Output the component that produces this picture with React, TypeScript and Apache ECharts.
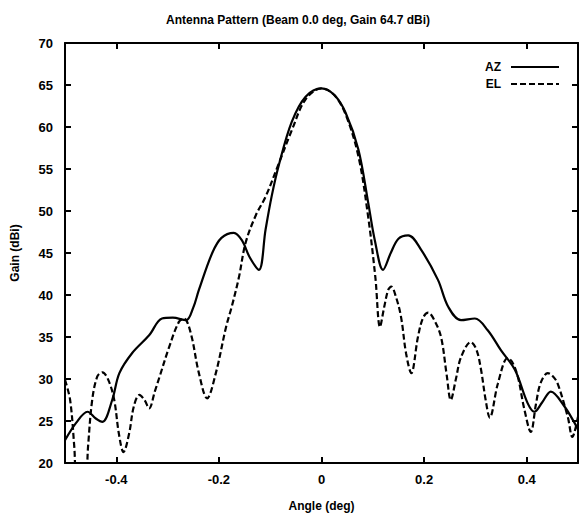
import React, { useEffect, useRef } from "react";
import * as echarts from "echarts";

const TITLE = "Antenna Pattern (Beam 0.0 deg, Gain 64.7 dBi)";
const X_TICKS = [-0.4, -0.2, 0, 0.2, 0.4];

const AZ_ANGLE = [
  -0.5, -0.478, -0.456, -0.44, -0.427, -0.408, -0.394, -0.369, -0.336, -0.311, -0.29, -0.264,
  -0.25, -0.239, -0.213, -0.195, -0.171, -0.155, -0.14, -0.122, -0.109, -0.097, -0.083, -0.058,
  -0.031, 0, 0.025, 0.047, 0.072, 0.091, 0.104, 0.12, 0.135, 0.15, 0.169, 0.194, 0.227, 0.247,
  0.272, 0.299, 0.324, 0.35, 0.377, 0.402, 0.415, 0.43, 0.447, 0.474, 0.493, 0.5,
];
const AZ_GAIN = [
  22.7, 24.8, 26.1, 25.3, 24.9, 27.5, 30.7, 33.1, 35.2, 37.2, 37.3, 37.0,
  38.5, 40.6, 45.0, 46.8, 47.4, 46.5, 44.5, 43.0, 47.8, 51.8, 55.5, 60.6,
  63.6, 64.6, 63.8, 61.7, 57.3, 51.0, 46.5, 43.0, 45.0, 46.7, 47.1, 45.4, 41.8, 38.6,
  37.0, 37.2, 35.8, 33.4, 31.1, 27.1, 26.1, 27.2, 28.5, 26.7, 24.8, 24.0,
];

const EL_ANGLE = [
  -0.5, -0.49, -0.482, -0.475, -0.462, -0.455, -0.447, -0.437, -0.427, -0.415, -0.404, -0.395,
  -0.386, -0.375, -0.366, -0.355, -0.345, -0.336, -0.325, -0.316, -0.297, -0.278, -0.268, -0.255,
  -0.239, -0.223, -0.206, -0.186, -0.175, -0.161, -0.148, -0.128, -0.109, -0.083, -0.058, -0.031,
  0, 0.025, 0.047, 0.072, 0.091, 0.105, 0.114, 0.122, 0.13, 0.136, 0.145, 0.155, 0.165, 0.175,
  0.188, 0.198, 0.208, 0.22, 0.233, 0.244, 0.252, 0.262, 0.272, 0.291, 0.302, 0.311, 0.32, 0.328,
  0.344, 0.363, 0.372, 0.383, 0.395, 0.408, 0.418, 0.427, 0.441, 0.45, 0.46, 0.48, 0.489, 0.5,
];
const EL_GAIN = [
  29.9, 27.5, 22.0, 16.0, 16.0, 22.0, 27.5, 30.3, 30.8, 29.8, 27.5, 23.5,
  21.3, 23.5, 26.7, 28.1, 27.5, 26.5, 28.5, 30.2, 33.8, 36.8, 37.2, 35.5,
  30.7, 27.7, 30.7, 36.2, 38.6, 42.1, 46.2, 49.5, 51.7, 55.7, 59.6, 63.3,
  64.6, 63.8, 61.5, 56.5, 49.3, 42.1, 36.2, 38.5, 40.6, 41.0, 39.8, 37.4, 33.0, 30.7,
  35.0, 37.3, 37.9, 37.0, 35.0, 30.5, 27.5, 30.0, 32.6, 34.4, 33.5, 31.1, 27.5, 25.4,
  29.5, 32.5, 32.0, 30.2, 26.5, 23.7, 27.0, 29.5, 30.7, 30.4, 29.5, 25.5, 23.1, 25.5,
];

const FONT = "'Liberation Sans', Arial, sans-serif";

export default function App() {
  const ref = useRef<HTMLDivElement>(null);
  useEffect(() => {
    if (!ref.current) return;
    const chart = echarts.init(ref.current, undefined, { renderer: "svg" });
    const azData = AZ_ANGLE.map((a, i) => [a, AZ_GAIN[i]]);
    const elData = EL_ANGLE.map((a, i) => [a, EL_GAIN[i]]);
    const axisLine = { show: true, onZero: false, lineStyle: { color: "#000", width: 2 } };
    const labelStyle = { color: "#000", fontSize: 13, fontWeight: "bold" as const, fontFamily: FONT };
    chart.setOption({
      animation: false,
      backgroundColor: "#fff",
      title: {
        text: TITLE,
        left: 293,
        textAlign: "center",
        top: 9,
        textStyle: { color: "#000", fontSize: 12, fontWeight: "bold", fontFamily: FONT },
      },
      legend: {
        right: 15,
        top: 56,
        orient: "vertical",
        align: "right",
        itemWidth: 48,
        itemHeight: 10,
        itemGap: 5,
        itemStyle: { opacity: 0 },
        textStyle: { color: "#000", fontSize: 12, fontWeight: "bold", fontFamily: FONT, padding: [0, 5, 0, 0] },
        data: ["AZ", "EL"],
      },
      grid: { left: 65, right: 2, top: 43, bottom: 55 },
      xAxis: [
        {
          type: "value",
          position: "bottom",
          min: -0.5,
          max: 0.5,
          interval: 0.1,
          name: "Angle (deg)",
          nameLocation: "middle",
          nameGap: 37,
          nameTextStyle: { color: "#000", fontSize: 12, fontWeight: "bold", fontFamily: FONT },
          axisLine,
          axisTick: { show: true, inside: true, length: 6, customValues: X_TICKS, lineStyle: { color: "#000", width: 2 } },
          axisLabel: { ...labelStyle, margin: 10, customValues: X_TICKS, formatter: (v: number) => (v === 0 ? "0" : String(v)) },
          splitLine: { show: false },
        },
        {
          type: "value",
          position: "top",
          min: -0.5,
          max: 0.5,
          interval: 0.1,
          axisLine,
          axisTick: { show: true, inside: true, length: 6, customValues: X_TICKS, lineStyle: { color: "#000", width: 2 } },
          axisLabel: { show: false },
          splitLine: { show: false },
        },
      ],
      yAxis: [
        {
          type: "value",
          position: "left",
          min: 20,
          max: 70,
          interval: 5,
          name: "Gain (dBi)",
          nameLocation: "middle",
          nameGap: 44,
          nameTextStyle: { color: "#000", fontSize: 12, fontWeight: "bold", fontFamily: FONT },
          axisLine,
          axisTick: { show: true, inside: true, length: 6, lineStyle: { color: "#000", width: 2 } },
          axisLabel: { ...labelStyle, margin: 12 },
          splitLine: { show: false },
        },
        {
          type: "value",
          position: "right",
          min: 20,
          max: 70,
          interval: 5,
          axisLine,
          axisTick: { show: true, inside: true, length: 6, lineStyle: { color: "#000", width: 2 } },
          axisLabel: { show: false },
          splitLine: { show: false },
        },
      ],
      series: [
        {
          name: "AZ",
          type: "line",
          xAxisIndex: 0,
          yAxisIndex: 0,
          data: azData,
          smooth: 0.35,
          symbol: "none",
          clip: true,
          lineStyle: { color: "#000", width: 2.2, type: "solid" },
          itemStyle: { color: "#000" },
        },
        {
          name: "EL",
          type: "line",
          xAxisIndex: 0,
          yAxisIndex: 0,
          data: elData,
          smooth: 0.35,
          symbol: "none",
          clip: true,
          lineStyle: { color: "#000", width: 2.2, type: [6, 3] },
          itemStyle: { color: "#000" },
        },
      ],
    });
    return () => chart.dispose();
  }, []);
  return (
    <div
      ref={ref}
      style={{ position: "fixed", left: 0, top: 0, width: 580, height: 518, background: "#fff" }}
    />
  );
}
